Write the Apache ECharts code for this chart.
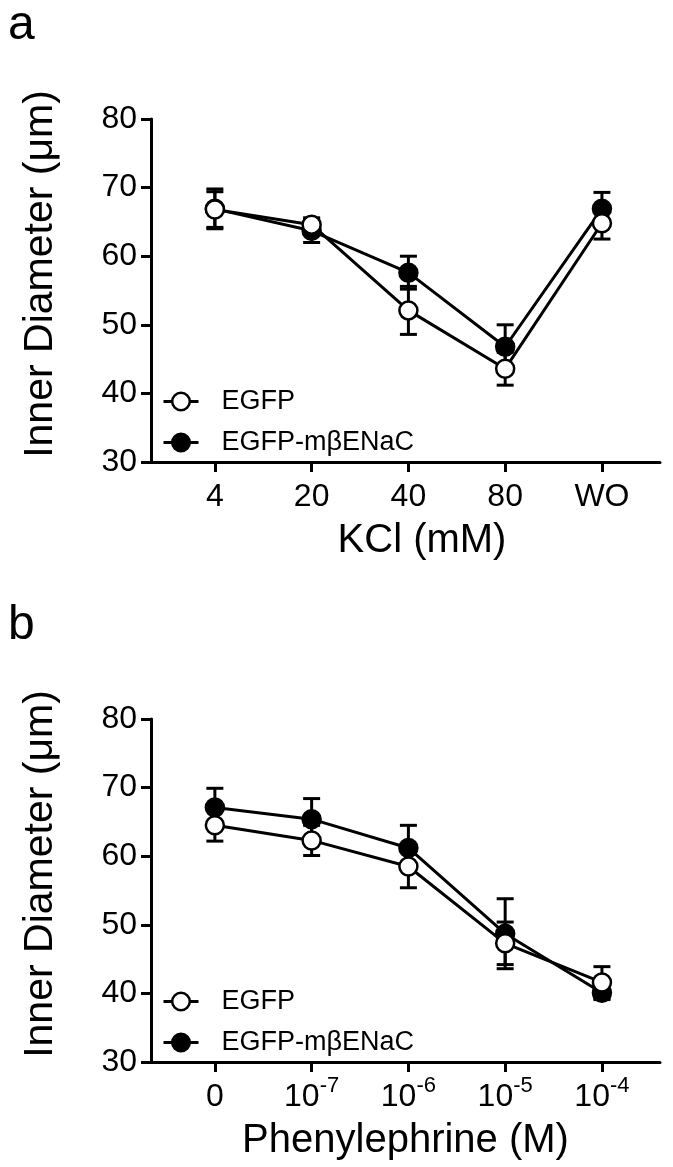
<!DOCTYPE html>
<html><head><meta charset="utf-8">
<script src="https://cdn.jsdelivr.net/npm/echarts@6/dist/echarts.min.js"></script>
<style>html,body{margin:0;padding:0;background:#fff}#c{width:673px;height:1167px}</style>
</head><body><div id="c"></div>
<script>
// ---- data ----
var kclLabels = ['4', '20', '40', '80', 'WO'];
var kclEGFP = [66.8, 64.6, 52.1, 43.6, 64.8];
var kclEGFPsem = [2.6, 1.0, 3.5, 2.4, 2.3];
var kclENaC = [66.9, 63.7, 57.6, 46.8, 66.9];
var kclENaCsem = [2.9, 1.7, 2.4, 3.2, 2.4];

var peBase = ['0', '10', '10', '10', '10'];
var peExp = ['', '-7', '-6', '-5', '-4'];
var peEGFP = [64.5, 62.3, 58.5, 47.3, 41.6];
var peEGFPsem = [2.3, 2.2, 3.1, 3.1, 2.3];
var peENaC = [67.1, 65.4, 61.2, 48.7, 40.1];
var peENaCsem = [2.8, 3.0, 3.3, 5.1, 1.0];

var seriesNames = ['EGFP', 'EGFP-mβENaC'];
var xTitles = ['KCl (mM)', 'Phenylephrine (M)'];
var yTitle = 'Inner Diameter (μm)';

// ---- build ----
var FONT = 'Liberation Sans, Arial, Helvetica, sans-serif';
var chart = echarts.init(document.getElementById('c'), null, {renderer: 'canvas'});
var idx = [0, 1, 2, 3, 4];

function pairs(vals) { return vals.map(function (v, i) { return [i, v]; }); }
function errData(vals, sem) { return vals.map(function (v, i) { return [i, v, sem[i]]; }); }

function errRender(params, api) {
  var x = api.value(0), y = api.value(1), e = api.value(2);
  var top = api.coord([x, y + e]);
  var bot = api.coord([x, y - e]);
  var hw = 8.5;
  var st = {stroke: '#000', lineWidth: 3};
  return {
    type: 'group',
    children: [
      {type: 'line', shape: {x1: top[0], y1: top[1], x2: bot[0], y2: bot[1]}, style: st},
      {type: 'line', shape: {x1: top[0] - hw, y1: top[1], x2: top[0] + hw, y2: top[1]}, style: st},
      {type: 'line', shape: {x1: bot[0] - hw, y1: bot[1], x2: bot[0] + hw, y2: bot[1]}, style: st}
    ]
  };
}

var panels = [
  {top: 119, egfp: kclEGFP, egfpSem: kclEGFPsem, enac: kclENaC, enacSem: kclENaCsem,
   fmt: function (v) { return '{b|' + kclLabels[Math.round(v)] + '}'; }, xPad: [0, 0, 0, 33]},
  {top: 719, egfp: peEGFP, egfpSem: peEGFPsem, enac: peENaC, enacSem: peENaCsem,
   fmt: function (v) { var i = Math.round(v); return '{b|' + peBase[i] + '}' + (peExp[i] ? '{s|' + peExp[i] + '}' : ''); }, xPad: [0, 0, 0, 0]}
];

var grids = [], xAxes = [], yAxes = [], series = [], legends = [], graphics = [];
panels.forEach(function (p, k) {
  grids.push({left: 151, top: p.top, width: 509, height: 343, containLabel: false});
  xAxes.push({
    type: 'value', gridIndex: k, min: -0.66, max: 4.6,
    name: xTitles[k], nameLocation: 'middle', nameGap: 59,
    nameTextStyle: {fontFamily: FONT, fontSize: 40, color: '#000', padding: p.xPad},
    axisLine: {show: true, onZero: false, lineStyle: {color: '#000', width: 3}},
    axisTick: {show: true, length: 10, lineStyle: {color: '#000', width: 3}, customValues: idx},
    axisLabel: {show: true, margin: 13, customValues: idx, formatter: p.fmt,
      rich: {
        b: {fontFamily: FONT, fontSize: 32, color: '#000', lineHeight: 44},
        s: {fontFamily: FONT, fontSize: 22, color: '#000', lineHeight: 21, verticalAlign: 'top'}
      }},
    splitLine: {show: false}
  });
  yAxes.push({
    type: 'value', gridIndex: k, min: 30, max: 80, interval: 10,
    name: yTitle, nameLocation: 'middle', nameGap: 90, nameRotate: 90,
    nameTextStyle: {fontFamily: FONT, fontSize: 41, color: '#000', padding: [0, 0, 0, 33]},
    axisLine: {show: true, onZero: false, lineStyle: {color: '#000', width: 3}},
    axisTick: {show: true, length: 10, lineStyle: {color: '#000', width: 3}},
    axisLabel: {margin: 14, fontFamily: FONT, fontSize: 32, color: '#000'},
    splitLine: {show: false}
  });
  series.push({
    type: 'custom', xAxisIndex: k, yAxisIndex: k, z: 1, silent: true,
    renderItem: errRender, data: errData(p.enac, p.enacSem)
  });
  series.push({
    type: 'custom', xAxisIndex: k, yAxisIndex: k, z: 1, silent: true,
    renderItem: errRender, data: errData(p.egfp, p.egfpSem)
  });
  series.push({
    type: 'line', name: seriesNames[1], xAxisIndex: k, yAxisIndex: k, z: 2,
    data: pairs(p.enac), symbol: 'circle', symbolSize: 18, showAllSymbol: true,
    lineStyle: {color: '#000', width: 3},
    itemStyle: {color: '#000', borderColor: '#000', borderWidth: 2.5}
  });
  series.push({
    type: 'line', name: seriesNames[0], xAxisIndex: k, yAxisIndex: k, z: 3,
    data: pairs(p.egfp), symbol: 'circle', symbolSize: 18, showAllSymbol: true,
    lineStyle: {color: '#000', width: 3},
    itemStyle: {color: '#fff', borderColor: '#000', borderWidth: 2.5}
  });
  legends.push({
    data: seriesNames, orient: 'vertical', left: 162, top: p.top + 269,
    padding: 0, itemWidth: 35, itemHeight: 22, itemGap: 14, selectedMode: false,
    lineStyle: {width: 3, color: '#000'},
    itemStyle: {borderWidth: 2.5, borderColor: '#000'},
    textStyle: {fontFamily: FONT, fontSize: 27, color: '#000', lineHeight: 22, padding: [0, 0, 0, 18]}
  });
  graphics.push({
    type: 'text', left: 8, top: p.top - 119 + 2,
    style: {text: k === 0 ? 'a' : 'b', font: '48px ' + FONT, fill: '#000'}
  });
});

chart.setOption({
  animation: false,
  backgroundColor: '#fff',
  grid: grids, xAxis: xAxes, yAxis: yAxes, series: series, legend: legends,
  graphic: graphics
});
</script></body></html>
